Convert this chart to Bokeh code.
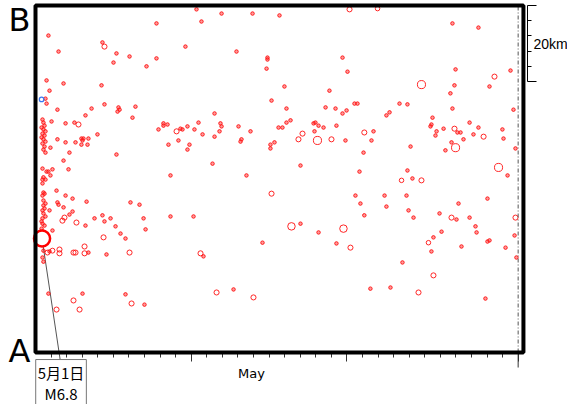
from bokeh.plotting import figure
from bokeh.models import (Range1d, FixedTicker, LinearAxis, Label, Arrow, BoxAnnotation,
                          ColumnDataSource)
from bokeh.embed import file_html
from bokeh.resources import INLINE

# time axis: days since 1 May 00:00 ; vertical axis: distance along A-B (km)
T_END = 31.34
KM_MAX = 91.3
SCALE_KM = 20
MAJOR_DAYS = [10, 20, 31]
MINOR_DAYS = list(range(1, 31))
MONTH_END = 31
MONTH_LABEL_DAY = 13.87

ev_day = [
    0.83, 1.48, 4.30, 4.43, 5.20, 6.04, 5.01, 7.13, 0.71, 1.80, 0.90, 4.24, 0.64,
    0.71, 1.41, 3.60, 4.43, 5.33, 5.40, 5.27, 6.42, 6.23, 3.21, 1.03, 1.93, 2.50, 2.76,
    0.45, 0.51, 0.58, 0.39, 0.51, 0.64, 0.45, 0.58, 0.39, 0.51, 0.64, 0.45, 0.58, 0.51, 0.64,
    1.41, 1.93, 2.57, 2.95, 3.08, 3.02, 3.40, 3.98, 2.95, 3.34, 2.18, 1.80, 0.96, 5.20, 2.12, 0.45,
    0.71, 0.83, 1.09, 0.51, 0.45, 0.64, 0.96, 0.45, 1.35, 0.51, 0.58, 0.45, 1.93, 2.38, 1.41, 1.48,
    0.51, 0.64, 0.51, 0.58, 0.45, 0.51, 0.64, 0.45, 0.39, 0.45, 0.58, 0.39, 0.51,
    0.90, 1.80, 2.18, 2.38, 1.86, 1.73, 2.63, 3.28, 3.21, 3.79, 4.30, 4.43, 4.82, 5.14, 4.37, 5.46,
    5.78, 6.10, 6.68, 6.94, 7.07, 1.09,
    0.51, 0.77, 0.90, 1.09, 1.54, 1.54, 2.44, 2.57, 3.15, 3.15, 3.40, 4.56, 6.04, 0.45, 0.51, 0.83,
    3.02, 2.44, 2.83, 1.35, 5.78, 6.17, 7.00,
    10.34, 11.95, 13.94, 15.67, 20.17, 7.77, 10.66, 9.63, 7.77, 12.91, 14.90, 14.90, 14.84, 19.72,
    20.04, 15.99, 18.88, 15.16, 16.12, 18.63, 19.27, 19.98, 19.72, 11.50,
    8.22, 8.48, 8.22, 7.90, 9.06, 9.31, 9.44, 9.76, 10.21, 10.47, 10.73, 11.50, 11.88, 11.95, 11.82,
    13.04, 13.81, 15.61, 15.86, 16.12, 16.38, 17.15, 17.86, 17.98, 18.18, 18.50, 19.33, 17.92, 16.89,
    18.11, 19.01, 19.91, 8.54, 9.18, 9.89, 9.76, 13.23, 13.17, 15.09, 15.35, 15.09,
    20.49, 20.68, 23.38, 23.89, 26.78, 30.70, 22.74, 22.54, 25.50, 25.43,
    25.37, 26.21, 27.88, 28.45, 26.91, 27.10, 27.30, 25.76, 25.69, 28.13,
    28.78, 29.99, 30.06, 21.12, 21.71, 21.58, 27.49, 26.72, 26.98, 24.09,
    26.33, 30.83, 21.07, 29.74, 30.32, 20.81, 23.89, 23.51, 24.21, 24.79,
    20.55, 22.42, 23.83, 29.03, 20.87, 22.54, 27.17, 23.96, 21.12, 24.28,
    25.95, 26.72, 27.04, 27.88, 30.83, 28.26, 28.33, 26.08, 25.56, 25.24,
    29.03, 29.16, 27.36, 30.19, 25.43, 20.23, 30.77, 30.89, 23.57, 25.56,
    21.51, 22.80, 24.60, 28.90,
    26.78, 28.45, 26.98, 30.51, 29.48, 26.91, 29.16, 26.65, 24.79, 21.97,
    10.60, 15.16, 16.44, 19.78, 11.63, 14.00,
    8.67, 11.37, 13.55, 17.02, 8.67, 10.15, 10.79, 14.58, 17.02, 18.18, 19.33, 12.72,
]
ev_km = [
    83.4, 79.2, 81.6, 80.5, 78.7, 77.9, 76.3, 75.3, 71.6, 70.8, 68.9, 70.3, 66.8,
    65.5, 63.9, 64.2, 65.3, 64.5, 63.9, 63.4, 64.7, 61.8, 62.4, 60.8, 60.3, 60.5, 60.0,
    61.3, 60.5, 59.7, 59.2, 58.7, 58.2, 57.6, 57.1, 56.6, 56.1, 55.5, 55.0, 54.2, 53.4, 52.6,
    56.1, 55.3, 55.3, 56.3, 56.3, 55.8, 56.3, 57.4, 54.7, 54.7, 52.6, 50.5, 53.9, 52.1, 48.2, 48.4,
    47.6, 47.6, 48.2, 46.1, 45.5, 45.5, 46.6, 44.5, 42.6, 42.1, 41.8, 41.3, 41.3, 40.5, 39.5, 38.9,
    40.0, 39.2, 38.7, 37.9, 37.4, 36.6, 35.8, 35.3, 34.5, 33.9, 33.4, 32.6, 31.8,
    37.4, 38.2, 36.3, 37.1, 35.5, 34.7, 34.2, 39.7, 33.4, 35.3, 36.1, 34.5, 35.3, 33.2, 30.3, 31.3,
    30.0, 39.5, 38.9, 35.3, 32.4, 32.1,
    26.8, 26.3, 26.6, 26.8, 27.1, 26.1, 26.3, 26.3, 27.9, 26.1, 26.3, 25.8, 26.3, 25.0, 23.9, 15.5,
    15.5, 13.7, 11.3, 11.3, 15.3, 12.9, 12.6,
    90.3, 89.2, 89.2, 88.7, 90.3, 86.6, 87.1, 80.5, 77.4, 79.2, 77.6, 77.1, 74.7, 77.6,
    73.9, 70.0, 68.9, 66.3, 64.2, 64.5, 64.2, 63.7, 62.9, 62.9,
    60.3, 60.0, 59.7, 58.7, 58.2, 58.9, 58.7, 59.5, 58.7, 60.5, 57.4, 56.8, 60.3, 59.5, 58.2,
    59.5, 58.2, 59.2, 59.2, 60.5, 61.1, 57.6, 60.3, 60.5, 59.7, 59.2, 59.7, 58.2, 56.1,
    55.8, 56.1, 55.8, 54.7, 55.8, 54.7, 53.4, 56.1, 55.5, 54.7, 55.3, 53.7,
    65.5, 65.5, 65.5, 65.3, 64.2, 63.9, 63.2, 62.4, 61.8, 60.0,
    59.5, 58.9, 60.5, 59.2, 58.9, 57.9, 57.9, 58.2, 57.1, 57.4,
    56.8, 58.7, 56.3, 57.9, 58.2, 55.8, 56.1, 55.3, 53.9, 54.2,
    53.2, 53.7, 52.6, 48.7, 46.6, 47.6, 47.9, 45.3, 45.8, 45.3,
    41.3, 41.3, 41.3, 40.5, 39.2, 38.4, 39.2, 37.4, 36.1, 35.5,
    36.6, 35.5, 35.0, 35.5, 35.5, 33.2, 31.6, 31.8, 30.3, 28.9,
    29.2, 29.5, 27.9, 27.6, 26.6, 27.6, 30.8, 25.0, 23.7, 20.3,
    16.8, 17.1, 15.8, 14.2,
    86.6, 85.5, 74.5, 74.2, 72.6, 70.3, 70.0, 68.2, 70.5, 90.5,
    26.1, 41.8, 33.2, 32.6, 15.8, 14.5,
    46.6, 49.7, 46.6, 49.2, 35.8, 35.8, 25.3, 28.9, 33.9, 31.6, 28.7, 16.6,
]
ev_mag = [
    0.5, 0.5, 0.5, 1.3, 0.5, 0.5, 0.5, 0.5, 0.5, 0.5, 0.5, 0.5, 0.5,
    0.5, 0.5, 0.5, 0.5, 0.5, 0.5, 0.5, 0.5, 0.5, 0.5, 0.5, 0.5, 0.5, 1.3,
    0.5, 0.5, 0.5, 0.5, 0.5, 0.5, 0.5, 0.5, 0.5, 0.5, 0.5, 0.5, 0.5, 0.5, 0.5,
    0.5, 0.5, 0.5, 0.5, 0.5, 0.5, 0.5, 0.5, 0.5, 0.5, 0.5, 0.5, 0.5, 0.5, 0.5, 0.5,
    0.5, 0.5, 0.5, 0.5, 0.5, 0.5, 0.5, 0.5, 0.5, 0.5, 0.5, 0.5, 0.5, 0.5, 0.5, 0.5,
    0.5, 0.5, 0.5, 0.5, 0.5, 0.5, 0.5, 0.5, 0.5, 0.5, 0.5, 0.5, 0.5,
    0.5, 0.5, 0.5, 0.5, 1.3, 1.3, 1.3, 0.5, 0.5, 0.5, 0.5, 0.5, 0.5, 0.5, 1.3, 0.5,
    0.5, 0.5, 0.5, 0.5, 0.5, 0.5,
    0.5, 1.2, 0.5, 1.2, 1.3, 1.3, 1.3, 1.3, 1.3, 1.3, 0.5, 0.5, 1.3, 0.5, 0.5, 0.5,
    0.5, 1.3, 1.3, 1.3, 0.5, 1.3, 0.5,
    0.5, 0.5, 0.5, 0.5, 1.3, 0.5, 0.5, 0.5, 0.5, 0.5, 0.5, 0.5, 0.5, 0.5,
    0.5, 0.5, 0.5, 0.5, 0.5, 0.5, 0.5, 0.5, 0.5, 0.5,
    0.5, 0.5, 0.5, 0.5, 1.3, 0.5, 0.5, 0.5, 0.5, 0.5, 0.5, 0.5, 0.5, 0.5, 0.5,
    0.5, 0.5, 0.5, 0.5, 0.5, 0.5, 1.3, 0.5, 0.5, 0.5, 0.5, 0.5, 0.5, 1.3,
    2.8, 1.3, 0.5, 0.5, 0.5, 0.5, 0.5, 0.5, 0.5, 0.5, 0.5, 0.5,
    0.5, 0.5, 0.5, 0.5, 0.5, 0.5, 0.5, 0.5, 0.5, 0.5,
    0.5, 0.5, 0.5, 0.5, 1.3, 0.5, 0.5, 0.5, 0.5, 0.5,
    1.3, 0.5, 0.5, 1.3, 0.5, 0.5, 0.5, 0.5, 2.8, 0.5,
    0.5, 0.5, 0.5, 2.8, 0.5, 0.5, 0.5, 1.0, 0.5, 1.3,
    0.5, 0.5, 0.5, 0.5, 0.5, 0.5, 0.5, 0.5, 0.5, 0.5,
    0.5, 1.3, 0.5, 0.5, 1.3, 0.5, 0.5, 0.5, 0.5, 1.0,
    0.5, 0.5, 0.5, 0.5, 0.5, 1.3, 0.5, 0.5, 0.5, 1.3,
    0.5, 0.5, 1.3, 0.5,
    0.5, 0.5, 0.5, 0.5, 1.3, 0.5, 0.5, 0.5, 2.8, 1.0,
    1.3, 1.3, 2.5, 2.5, 1.3, 1.3,
    0.5, 0.5, 0.5, 0.5, 0.5, 0.5, 0.5, 0.5, 0.5, 0.5, 0.5, 0.5,
]
assert len(ev_day) == len(ev_km) == len(ev_mag), (len(ev_day), len(ev_km), len(ev_mag))

main_day = [0.42]
main_km = [30.0]
main_mag = [6.8]
main_label = "5月1日\nM6.8"

other_day = [0.39]
other_km = [66.6]
other_mag = [1.0]


def msize(m):
    return 2.5 + 2.0 * m


# canvas geometry: the whole canvas is the plotting frame
X_LO, X_HI = -2.248, 34.17
Y_LO, Y_HI = -13.68, 92.63

p = figure(width=567, height=404, x_range=Range1d(X_LO, X_HI), y_range=Range1d(Y_LO, Y_HI),
           output_backend="svg", toolbar_location=None, min_border=0,
           background_fill_color="white", border_fill_color="white")
p.outline_line_color = None
p.xgrid.visible = False
p.ygrid.visible = False

# thick frame around the time window
p.add_layout(BoxAnnotation(left=0, right=T_END, bottom=0, top=KM_MAX, fill_alpha=0,
                           line_color="black", line_alpha=1.0, line_width=4, level="overlay"))

# bottom time axis
xa = p.xaxis[0]
xa.fixed_location = 0
xa.bounds = (0, T_END)
xa.ticker = FixedTicker(ticks=MAJOR_DAYS, minor_ticks=MINOR_DAYS)
xa.major_tick_out = 9
xa.major_tick_in = 0
xa.minor_tick_out = 5
xa.minor_tick_in = 0
xa.major_label_text_color = None
xa.axis_line_color = None
xa.major_tick_line_color = "#333333"
xa.minor_tick_line_color = "#333333"

# A / B ends of the profile
ya = p.yaxis[0]
ya.fixed_location = 0
A_POS, B_POS = 0.5, 90.8
ya.ticker = FixedTicker(ticks=[A_POS, B_POS])
ya.major_label_overrides = {A_POS: "A", B_POS: "B"}
ya.major_label_text_font_size = "32px"
ya.major_label_text_font = "DejaVu Sans"
ya.major_label_text_color = "black"
ya.major_label_standoff = 5
ya.axis_line_color = None
ya.major_tick_line_color = None
ya.minor_tick_line_color = None
ya.major_tick_out = 0
ya.major_tick_in = 0

# distance scale bar on the right
scale = LinearAxis(fixed_location=31.60, bounds=(KM_MAX - SCALE_KM, KM_MAX),
                   ticker=FixedTicker(ticks=[KM_MAX - SCALE_KM, KM_MAX],
                                      minor_ticks=[KM_MAX - SCALE_KM + 4 * i for i in range(1, 5)]),
                   axis_line_color="black", axis_line_width=1,
                   major_tick_out=9, major_tick_in=0, minor_tick_out=4, minor_tick_in=0,
                   major_tick_line_color="black", minor_tick_line_color="black",
                   major_label_text_color=None, major_label_standoff=0)
p.add_layout(scale, "right")
p.add_layout(Label(x=31.98, y=KM_MAX - SCALE_KM / 2, text=f"{SCALE_KM}km",
                   text_font="Liberation Sans", text_font_size="14px", text_baseline="middle",
                   text_align="left", text_color="black"))

# month boundary
p.add_layout(Arrow(x_start=MONTH_END, y_start=0, x_end=MONTH_END, y_end=KM_MAX, end=None,
                   line_color="#555555", line_dash="4 2 1 2", line_width=1))
p.add_layout(Arrow(x_start=MONTH_END, y_start=0, x_end=MONTH_END, y_end=-3.95, end=None,
                   line_color="#333333", line_width=1))
p.add_layout(Label(x=MONTH_LABEL_DAY, y=-5.5, text="May", text_font="DejaVu Sans",
                   text_font_size="13px", text_align="center", text_baseline="middle",
                   text_color="black"))

# events
src = ColumnDataSource(dict(day=ev_day, km=ev_km, size=[msize(m) for m in ev_mag],
                            fa=[0.45 if m < 1 else 0.0 for m in ev_mag]))
p.scatter("day", "km", size="size", source=src, marker="circle", fill_color="#ff2020",
          fill_alpha="fa", line_color="#ff1010", line_alpha=0.9, line_width=1)
src_o = ColumnDataSource(dict(day=other_day, km=other_km, size=[msize(m) for m in other_mag]))
p.scatter("day", "km", size="size", source=src_o, marker="circle", fill_color=None,
          line_color="#3a78f0", line_width=1.2)

# leader line and main shock
p.add_layout(Arrow(x_start=main_day[0], y_start=main_km[0], x_end=1.61, y_end=-2.6, end=None,
                   line_color="#555555", line_width=1, level="underlay"))
src_m = ColumnDataSource(dict(day=main_day, km=main_km, size=[msize(m) for m in main_mag]))
p.scatter("day", "km", size="size", source=src_m, marker="circle", fill_color="white",
          line_color="#ff0000", line_width=2.5)
p.add_layout(Label(x=1.64, y=-7.9, text=main_label, text_font="Noto Sans CJK JP",
                   text_font_size="15px", text_align="center", text_baseline="middle",
                   text_color="black", text_line_height=1.0,
                   background_fill_color="white", border_line_color="#777777",
                   border_line_width=1, padding=2))

open("out.html", "w").write(file_html(p, INLINE))
